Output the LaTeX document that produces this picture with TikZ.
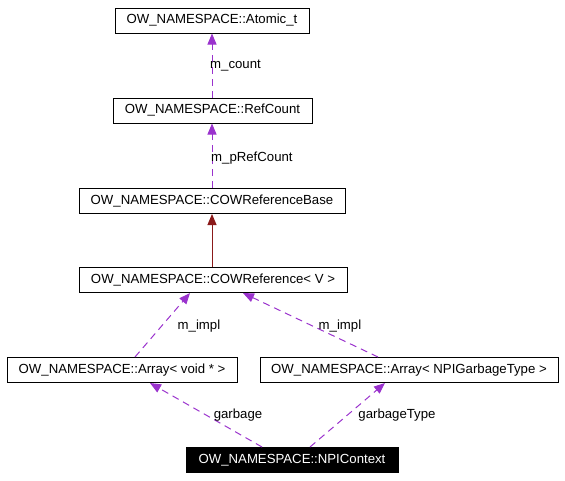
\documentclass[tikz,border=0pt]{standalone}
\usepackage{fontspec}
\setmainfont{Liberation Sans}
\usetikzlibrary{arrows.meta}
\definecolor{usecol}{HTML}{9A32CD}
\definecolor{inhcol}{HTML}{8B1A1A}
\tikzset{
  cls/.style={draw=black, line width=1pt, fill=white, inner sep=0pt, minimum height=25pt, font=\fontsize{13.2}{15}\selectfont},
  cur/.style={cls, fill=black, text=white},
  usage/.style={draw=usecol, line width=1pt, dash pattern=on 7pt off 5pt, -{Triangle[length=11pt,width=9pt,fill=usecol]}},
  inherit/.style={draw=inhcol, line width=1pt, -{Triangle[length=11pt,width=9pt,fill=inhcol]}},
  lbl/.style={font=\fontsize{13.2}{15}\selectfont, inner sep=0pt, text=black}
}
\begin{document}
\begin{tikzpicture}[x=1pt,y=-1pt]
\useasboundingbox (0,0) rectangle (565,480);
\node[cls, minimum width=194pt] (atomic) at (212,20.5) {OW\_NAMESPACE::Atomic\_t};
\node[cls, minimum width=199pt] (refcount) at (212.5,110.5) {OW\_NAMESPACE::RefCount};
\node[cls, minimum width=266pt] (cowbase) at (212,201) {OW\_NAMESPACE::COWReferenceBase};
\node[cls, minimum width=268pt] (cowref) at (213,280) {OW\_NAMESPACE::COWReference< V >};
\node[cls, minimum width=230pt] (arrvoid) at (122,370) {OW\_NAMESPACE::Array< void * >};
\node[cls, minimum width=298pt] (arrnpi) at (409,370) {OW\_NAMESPACE::Array< NPIGarbageType >};
\node[cur, minimum width=212pt] (npictx) at (292,460) {OW\_NAMESPACE::NPIContext};

\draw[usage] ([xshift=-0.5pt]refcount.north) -- (atomic.south);
\node[lbl, anchor=west] (lcount) at (210,66) {m\_count};
\draw[usage] (cowbase.north) -- ([xshift=-0.5pt]refcount.south);
\node[lbl, anchor=west] (lpref) at (211,158) {m\_pRefCount};
\draw[inherit] ([xshift=-1pt]cowref.north) -- (cowbase.south);
\draw[usage] ([xshift=13pt]arrvoid.north) -- ([xshift=-23pt]cowref.south);
\node[lbl] (limpl1) at (199,326) {m\_impl};
\draw[usage] ([xshift=-31pt]arrnpi.north) -- ([xshift=30pt]cowref.south);
\node[lbl] (limpl2) at (340,326) {m\_impl};
\draw[usage] ([xshift=-30pt]npictx.north) -- ([xshift=28pt]arrvoid.south);
\node[lbl] (lgarb) at (238,415) {garbage};
\draw[usage] ([xshift=18pt]npictx.north) -- ([xshift=-24pt]arrnpi.south);
\node[lbl] (lgarbt) at (397,415) {garbageType};
\end{tikzpicture}
\end{document}
